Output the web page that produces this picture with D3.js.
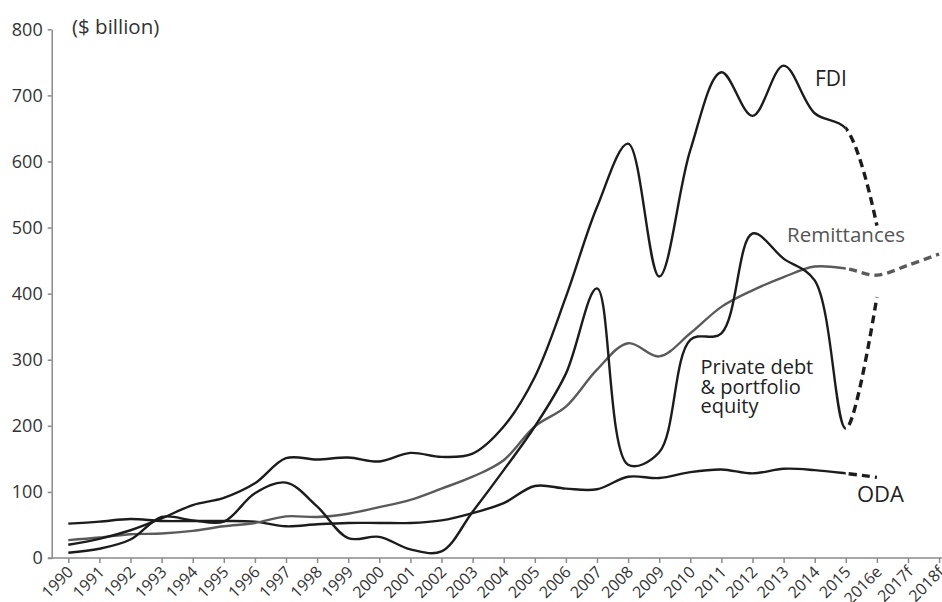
<!DOCTYPE html>
<html>
<head>
<meta charset="utf-8">
<script src="https://cdn.jsdelivr.net/npm/d3@7"></script>
<style>
  body { margin: 0; background: #fff; }
  text { font-family: "Open Sans", Lato, sans-serif; }
</style>
</head>
<body>
<svg id="chart" width="942" height="602"></svg>
<script>
// ---- Data ($ billion) ----
const years = ["1990","1991","1992","1993","1994","1995","1996","1997","1998","1999",
  "2000","2001","2002","2003","2004","2005","2006","2007","2008","2009",
  "2010","2011","2012","2013","2014","2015","2016e","2017f","2018f"];

const fdi = [20, 29, 42, 60, 80, 91, 113, 151, 149, 152,
  146, 159, 153, 158, 199, 274, 395, 531, 627, 426,
  617, 735, 669, 745, 673, 650, 503, null, null];

const remittances = [27, 31, 36, 37, 41, 48, 53, 63, 62, 67,
  77, 88, 105, 123, 148, 199, 229, 285, 325, 305,
  340, 380, 405, 425, 441, 438, 428, 443, 460];

const privateDebt = [8, 14, 28, 62, 57, 55, 98, 114, 78, 30,
  32, 13, 10, 70, 133, 199, 279, 408, 141, 160,
  330, 340, 491, 453, 420, 196, 395, null, null];

const oda = [52, 55, 59, 56, 56, 56, 55, 48, 51, 53,
  53, 53, 57, 68, 83, 109, 105, 104, 123, 121,
  130, 134, 128, 135, 133, 128, 122, null, null];

const yTicks = [0, 100, 200, 300, 400, 500, 600, 700, 800];
const lastActual = "2015";

// ---- Layout ----
const svg = d3.select("#chart");
const x = d3.scalePoint().domain(years).range([68.3, 939.1]);
const y = d3.scaleLinear().domain([0, 800]).range([558, 29.3]);

const defs = svg.append("defs");
defs.append("clipPath").attr("id", "solidClip")
  .append("rect").attr("x", 0).attr("y", 0)
  .attr("width", x(lastActual)).attr("height", 602);
defs.append("clipPath").attr("id", "dashClip")
  .append("rect").attr("x", x(lastActual)).attr("y", 0)
  .attr("width", 942 - x(lastActual)).attr("height", 602);

// Y axis
const yAxis = svg.append("g").attr("transform", "translate(51.7,0)")
  .call(d3.axisLeft(y).tickValues(yTicks).tickSize(4).tickSizeOuter(0).tickPadding(5));
yAxis.attr("font-size", null).attr("font-family", null);
yAxis.select(".domain").attr("stroke", "#8a8a8a").attr("stroke-width", 1.5);
yAxis.selectAll(".tick line").attr("stroke", "#8a8a8a").attr("stroke-width", 1.5);
yAxis.selectAll(".tick text").style("font-size", "18px").attr("fill", "#333");

// X axis
const xAxis = svg.append("g").attr("transform", "translate(0,558)")
  .call(d3.axisBottom(x).tickSize(5).tickSizeOuter(0));
xAxis.attr("font-size", null).attr("font-family", null);
xAxis.select(".domain").remove();
xAxis.insert("line", ":first-child").attr("x1", 48).attr("x2", 942)
  .attr("y1", 0).attr("y2", 0).attr("stroke", "#8a8a8a").attr("stroke-width", 1.5);
xAxis.selectAll(".tick line").attr("stroke", "#8a8a8a").attr("stroke-width", 1.5);
xAxis.selectAll(".tick text")
  .style("font-size", "16px").attr("fill", "#333")
  .attr("x", 0).attr("y", 0).attr("dy", 0)
  .attr("text-anchor", "end")
  .attr("transform", "translate(5.5,15) rotate(-45)");

// Unit label
svg.append("text").attr("x", 72).attr("y", 34).style("font-size", "20.5px").attr("fill", "#333")
  .text("($ billion)");

// Lines
const series = [
  { name: "ODA", values: oda, color: "#1c1c1c" },
  { name: "Remittances", values: remittances, color: "#5a5a5a" },
  { name: "Private", values: privateDebt, color: "#1c1c1c" },
  { name: "FDI", values: fdi, color: "#1c1c1c" }
];

const line = d3.line()
  .defined(d => d[1] != null)
  .x(d => x(d[0]))
  .y(d => y(d[1]))
  .curve(d3.curveCatmullRom.alpha(0.5));

series.forEach(s => {
  const data = years.map((yr, i) => [yr, s.values[i]]);
  svg.append("path").datum(data)
    .attr("d", line).attr("fill", "none")
    .attr("stroke", s.color).attr("stroke-width", 2.4)
    .attr("clip-path", "url(#solidClip)");
  svg.append("path").datum(data)
    .attr("d", line).attr("fill", "none")
    .attr("stroke", s.color).attr("stroke-width", 3.4)
    .attr("stroke-dasharray", "8,5")
    .attr("clip-path", "url(#dashClip)");
});

// Series labels
svg.append("text").attr("x", 815).attr("y", 85.5).style("font-size", "21px").attr("fill", "#222").text("FDI");
svg.append("text").attr("x", 787).attr("y", 242).style("font-size", "20.5px").attr("fill", "#555").text("Remittances");
const pl = svg.append("text").attr("x", 700.5).attr("y", 374).style("font-size", "20px").attr("fill", "#222");
pl.append("tspan").attr("x", 700.5).attr("dy", 0).text("Private debt");
pl.append("tspan").attr("x", 700.5).attr("dy", 19.5).text("& portfolio");
pl.append("tspan").attr("x", 700.5).attr("dy", 19.5).text("equity");
svg.append("text").attr("x", 857).attr("y", 501.5).style("font-size", "22px").attr("fill", "#222").text("ODA");
</script>
</body>
</html>
